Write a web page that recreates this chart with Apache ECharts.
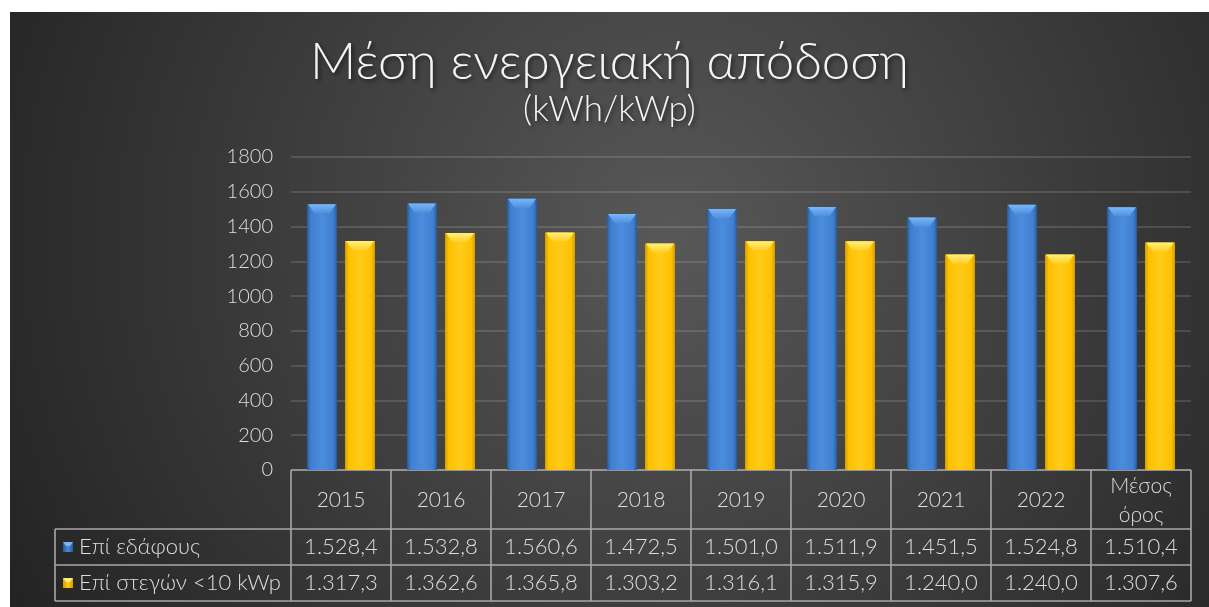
<!DOCTYPE html>
<html>
<head>
<meta charset="utf-8">
<script src="https://cdn.jsdelivr.net/npm/echarts@6/dist/echarts.min.js"></script>
<style>
html,body{margin:0;padding:0;background:#ffffff;}
#chart{position:absolute;left:10px;top:12px;width:1199px;height:595px;}
</style>
</head>
<body>
<div id="chart"></div>
<script>
// ---- data ----
const categories = ['2015','2016','2017','2018','2019','2020','2021','2022','Μέσος\nόρος'];
const seriesNames = ['Επί εδάφους','Επί στεγών <10 kWp'];
const groundValues = [1528.4,1532.8,1560.6,1472.5,1501.0,1511.9,1451.5,1524.8,1510.4];
const roofValues = [1317.3,1362.6,1365.8,1303.2,1316.1,1315.9,1240.0,1240.0,1307.6];
const yTicks = [0,200,400,600,800,1000,1200,1400,1600,1800];
const titleText = 'Μέση ενεργειακή απόδοση';
const subtitleText = '(kWh/kWp)';

const FONT = 'Lato, "Open Sans", "Noto Sans", sans-serif';
const TXT = '#dedede';
const LINE = '#a8a8a8';

const palettes = [
  {edge:'#2a5a98', mid:'#3f7fcf', hi:'#4b8ddc', top0:'#7ab6f7', top1:'#4f90de'},
  {edge:'#d19c00', mid:'#ffc000', hi:'#ffcb1a', top0:'#fff07a', top1:'#ffcf2a'}
];

function fmt(v){
  const parts = v.toFixed(1).split('.');
  return parts[0].replace(/\B(?=(\d{3})+(?!\d))/g,'.') + ',' + parts[1];
}

function makeRender(sIdx){
  const p = palettes[sIdx];
  return function(params, api){
    const c = api.value(0), v = api.value(1);
    const base = api.coord([c, 0]);
    const top = api.coord([c, v]);
    const band = api.size([1, 0])[0];
    const bw = band * 0.30, gap = band * 0.08;
    const cx = base[0] + (sIdx === 0 ? -(gap/2 + bw/2) : (gap/2 + bw/2));
    const x0 = cx - bw/2, yT = top[1], h = base[1] - top[1];
    const bev = Math.min(9, h/2);
    return {
      type:'group',
      children:[
        {type:'rect', shape:{x:x0, y:yT, width:bw, height:h},
         style:{fill:new echarts.graphic.LinearGradient(0,0,1,0,[
           {offset:0,color:p.edge},{offset:0.12,color:p.mid},{offset:0.5,color:p.hi},
           {offset:0.88,color:p.mid},{offset:1,color:p.edge}]),
           shadowBlur:6, shadowColor:'rgba(0,0,0,0.55)', shadowOffsetX:2, shadowOffsetY:1}},
        {type:'polygon', shape:{points:[[x0+1,yT],[x0+bw-1,yT],[x0+bw-bw*0.25,yT+bev],[x0+bw*0.25,yT+bev]]},
         style:{fill:new echarts.graphic.LinearGradient(0,0,0,1,[
           {offset:0,color:p.top0},{offset:1,color:p.top1}])}}
      ]
    };
  };
}

const chart = echarts.init(document.getElementById('chart'));
const option = {
  backgroundColor:{type:'radial', x:0.55, y:0.38, r:1.25,
    colorStops:[{offset:0,color:'#585858'},{offset:0.55,color:'#3b3b3b'},{offset:1,color:'#242424'}]},
  animation:false,
  title:[
    {text:titleText, left:'center', top:20,
     textStyle:{color:'#f4f4f4', fontFamily:FONT, fontWeight:300, fontSize:51,
       textShadowColor:'rgba(0,0,0,0.6)', textShadowBlur:4, textShadowOffsetX:2, textShadowOffsetY:2}},
    {text:subtitleText, left:'center', top:75,
     textStyle:{color:'#f4f4f4', fontFamily:FONT, fontWeight:300, fontSize:35,
       textShadowColor:'rgba(0,0,0,0.6)', textShadowBlur:4, textShadowOffsetX:2, textShadowOffsetY:2}}
  ],
  grid:{left:281, right:18, top:145, bottom:137},
  xAxis:{type:'category', data:categories, axisLabel:{show:false}, axisTick:{show:false}, axisLine:{show:false}},
  yAxis:{type:'value', min:yTicks[0], max:yTicks[yTicks.length-1], interval:200,
    axisLabel:{color:TXT, fontFamily:FONT, fontWeight:300, fontSize:20, margin:18, formatter:(v)=>String(v)},
    axisLine:{show:false}, axisTick:{show:false},
    splitLine:{lineStyle:{color:'rgba(255,255,255,0.13)', width:2}}},
  series:[
    {type:'custom', name:seriesNames[0], renderItem:makeRender(0),
     data:groundValues.map((v,i)=>[i,v]), encode:{x:0,y:1}},
    {type:'custom', name:seriesNames[1], renderItem:makeRender(1),
     data:roofValues.map((v,i)=>[i,v]), encode:{x:0,y:1}}
  ]
};
chart.setOption(option);

// ---- data table below the axis ----
const n = categories.length;
const c0 = chart.convertToPixel({xAxisIndex:0}, 0);
const c1 = chart.convertToPixel({xAxisIndex:0}, 1);
const band = c1 - c0;
const gx0 = c0 - band/2;
const gx1 = gx0 + band*n;
const yHead0 = chart.convertToPixel({yAxisIndex:0}, 0);
const yHead1 = yHead0 + 59;
const yRow1 = yHead1 + 36;
const yRow2 = yRow1 + 36;
const legendX = 45;
const g = [];
const ls = {stroke:LINE, lineWidth:1.6};
function hline(x1,x2,y){ g.push({type:'line', shape:{x1:x1,y1:y,x2:x2,y2:y}, style:ls, silent:true}); }
function vline(x,y1,y2){ g.push({type:'line', shape:{x1:x,y1:y1,x2:x,y2:y2}, style:ls, silent:true}); }
hline(gx0, gx1, yHead0);
hline(legendX, gx1, yHead1);
hline(legendX, gx1, yRow1);
hline(legendX, gx1, yRow2);
vline(legendX, yHead1, yRow2);
for(let i=0;i<=n;i++){ vline(gx0 + band*i, yHead0, yRow2); }
const textBase = {fill:TXT, fontFamily:FONT, fontWeight:300, fontSize:21, align:'center', verticalAlign:'middle'};
for(let i=0;i<n;i++){
  const cx = gx0 + band*(i+0.5);
  g.push({type:'text', x:cx, y:(yHead0+yHead1)/2 + 1, style:Object.assign({}, textBase, {text:categories[i], lineHeight:29}), silent:true});
  g.push({type:'text', x:cx, y:(yHead1+yRow1)/2, style:Object.assign({}, textBase, {text:fmt(groundValues[i]), fontSize:22}), silent:true});
  g.push({type:'text', x:cx, y:(yRow1+yRow2)/2, style:Object.assign({}, textBase, {text:fmt(roofValues[i]), fontSize:22}), silent:true});
}
const rows = [(yHead1+yRow1)/2, (yRow1+yRow2)/2];
rows.forEach((ry, s)=>{
  const p = palettes[s];
  g.push({type:'rect', shape:{x:legendX+8, y:ry-5, width:10, height:10},
    style:{fill:new echarts.graphic.LinearGradient(0,0,1,0,[{offset:0,color:p.edge},{offset:0.5,color:p.hi},{offset:1,color:p.edge}])}, silent:true});
  g.push({type:'polygon', shape:{points:[[legendX+8,ry-5],[legendX+18,ry-5],[legendX+15,ry-1],[legendX+11,ry-1]]},
    style:{fill:p.top0}, silent:true});
  g.push({type:'text', x:legendX+24, y:ry, style:Object.assign({}, textBase, {text:seriesNames[s], align:'left', fontSize:22}), silent:true});
});
chart.setOption({graphic:g});
</script>
</body>
</html>
